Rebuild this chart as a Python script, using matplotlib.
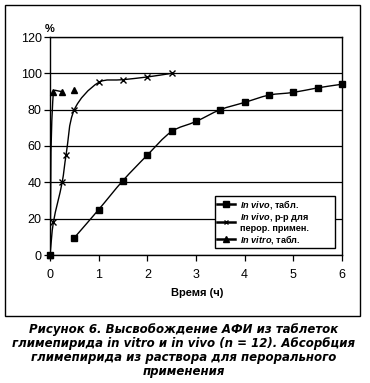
import numpy as np
import matplotlib
matplotlib.use('Agg')
import matplotlib.pyplot as plt
from matplotlib.path import Path
from matplotlib.patches import PathPatch, Rectangle
from matplotlib.lines import Line2D

# data
t_tab = [0.5, 1, 1.5, 2, 2.5, 3, 3.5, 4, 4.5, 5, 5.5, 6]
vivo_tab = [9.5, 25, 41, 55, 68, 73.5, 80, 84, 88, 89.5, 92, 94]
t_tab_zero = [0]
vivo_tab_zero = [0]

t_sol = [0, 0.07, 0.25, 0.33, 0.5, 1, 1.5, 2, 2.5]
vivo_sol = [0, 18, 40, 55, 80, 95, 96.5, 98, 100]

t_vitro = [0, 0.07, 0.24]
vitro_tab = [0, 90, 90]
t_vitro_extra = [0.5]
vitro_extra = [91]

x_ticks = [0, 1, 2, 3, 4, 5, 6]
y_ticks = [0, 20, 40, 60, 80, 100, 120]

labels = [r'$\mathit{In\ vivo}$, табл.',
          r'$\mathit{In\ vivo}$, р-р для' + '\n' + 'перор. примен.',
          r'$\mathit{In\ vitro}$, табл.']
caption = ('Рисунок 6. Высвобождение АФИ из таблеток\n'
           'глимепирида in vitro и in vivo (n = 12). Абсорбция\n'
           'глимепирида из раствора для перорального\n'
           'применения')

plt.rcParams['font.family'] = 'Liberation Sans'
plt.rcParams['mathtext.fontset'] = 'custom'
plt.rcParams['mathtext.rm'] = 'Liberation Sans:bold'
plt.rcParams['mathtext.it'] = 'Liberation Sans:italic:bold'


def smooth_path(ax, x, y):
    # excel-like smoothed line, bezier control points worked out in pixels
    p = ax.transData.transform(np.column_stack([x, y]).astype(float))
    n = len(p)
    verts = [p[0]]
    codes = [Path.MOVETO]
    for i in range(n - 1):
        a = p[i - 1] if i > 0 else p[i]
        d = p[i + 2] if i + 2 < n else p[i + 1]
        d0 = np.hypot(*(p[i] - a))
        d1 = np.hypot(*(p[i + 1] - p[i]))
        d2 = np.hypot(*(d - p[i + 1]))
        c1 = p[i] + (p[i + 1] - a) * d1 / (d0 + d1) / 3
        c2 = p[i + 1] - (d - p[i]) * d1 / (d1 + d2) / 3
        verts += [c1, c2, p[i + 1]]
        codes += [Path.CURVE4] * 3
    verts = ax.transData.inverted().transform(np.array(verts))
    return Path(verts, codes)


fig = plt.figure(figsize=(3.7, 3.83), dpi=100)
ax = fig.add_axes([50 / 370, 1 - 255 / 383, 292 / 370, 218 / 383])

# outer frame
fig.patches.append(Rectangle((5 / 370, 1 - 316 / 383), 355 / 370, 311 / 383,
                             transform=fig.transFigure, fill=False,
                             edgecolor='black', lw=1.0))

ax.set_xlim(0, 6)
ax.set_ylim(0, 120)
ax.set_xticks(x_ticks)
ax.set_yticks(y_ticks)
ax.yaxis.grid(True, color='black', lw=0.9)
ax.set_axisbelow(True)
for s in ax.spines.values():
    s.set_linewidth(1.0)
ax.tick_params(axis='both', labelsize=9, length=4, width=0.9, direction='out')
ax.tick_params(axis='x', pad=6)
ax.tick_params(axis='y', pad=2)

for xs, ys in [(t_tab, vivo_tab), (t_sol, vivo_sol), (t_vitro, vitro_tab)]:
    ax.add_patch(PathPatch(smooth_path(ax, xs, ys), fill=False, edgecolor='black', lw=1.0))

ax.plot(t_tab, vivo_tab, ls='none', marker='s', ms=5, color='black', clip_on=False)
ax.plot(t_tab_zero, vivo_tab_zero, ls='none', marker='s', ms=5, color='black', clip_on=False)
ax.plot(t_sol, vivo_sol, ls='none', marker='x', ms=4.5, mew=1.0, color='black', clip_on=False)
ax.plot(t_vitro, vitro_tab, ls='none', marker='^', ms=5, color='black', clip_on=False)
ax.plot(t_vitro_extra, vitro_extra, ls='none', marker='^', ms=5, color='black', clip_on=False)

handles = [Line2D([], [], color='black', lw=1.8, marker='s', ms=4),
           Line2D([], [], color='black', lw=1.8, marker='x', ms=3.5, mew=1.0),
           Line2D([], [], color='black', lw=1.8, marker='^', ms=4)]
leg = ax.legend(handles, labels, loc='lower left',
                bbox_to_anchor=(0.565, 0.032, 0.411, 0.2), mode='expand',
                borderaxespad=0, fancybox=False, framealpha=1, edgecolor='black',
                handlelength=2.0, handletextpad=0.5, labelspacing=0.0,
                borderpad=0.2, prop={'size': 6.6, 'weight': 'bold'})
leg.get_frame().set_linewidth(1.0)
leg.get_texts()[1].set_linespacing(1.0)

fig.text(50 / 370, 1 - 29 / 383, '%', ha='center', va='center', fontsize=8, fontweight='bold')
fig.text(197 / 370, 1 - 293 / 383, 'Время (ч)', ha='center', va='center',
         fontsize=8, fontweight='bold')
fig.text(0.497, 1 - 351 / 383, caption, ha='center', va='center', fontsize=8.45,
         family='DejaVu Sans', fontweight='bold', fontstyle='italic', linespacing=1.1)

fig.savefig('out.png', dpi=100)
